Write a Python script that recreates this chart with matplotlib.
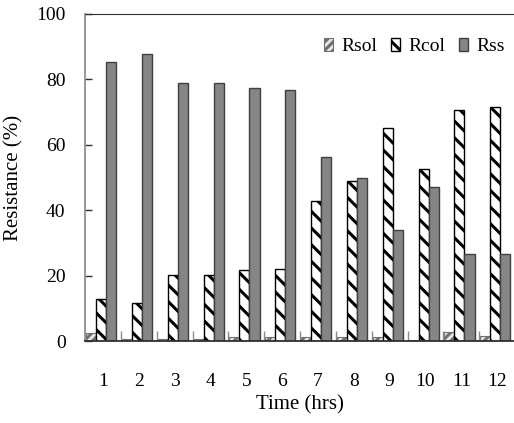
import matplotlib
matplotlib.use("Agg")
import matplotlib.pyplot as plt
import numpy as np

plt.rcParams['font.family'] = ['Liberation Serif', 'DejaVu Serif']
plt.rcParams['hatch.linewidth'] = 2.2

hours = [1, 2, 3, 4, 5, 6, 7, 8, 9, 10, 11, 12]
r_sol = [2.3, 0.5, 0.5, 0.5, 1.1, 1.1, 1.1, 1.1, 1.1, 0.2, 2.6, 1.4]
r_col = [12.7, 11.5, 20.1, 20.1, 21.6, 21.9, 42.8, 48.9, 65.2, 52.6, 70.6, 71.6]
r_ss = [85.2, 87.8, 78.9, 78.9, 77.3, 76.8, 56.2, 49.9, 33.8, 47.2, 26.6, 26.6]

fig = plt.figure(figsize=(5.14, 4.23), dpi=100)
ax = fig.add_axes([85 / 514, 82 / 423, 430 / 514, 327 / 423])

x = np.arange(len(hours)) + 1
w = 0.28
ax.bar(x - w - 0.05, r_sol, w, facecolor='#e8e8e8', edgecolor='#707070',
       hatch='////', linewidth=0.8, label='Rsol')
ax.bar(x - 0.05, r_col, w, facecolor='white', edgecolor='black',
       hatch='\\\\', linewidth=1.0, label='Rcol')
ax.bar(x + w - 0.05, r_ss, w, facecolor='#858585', edgecolor='#404040',
       linewidth=1.0, label='Rss')

ax.set_xlim(0.5, 12.5)
ax.set_ylim(0, 100)
ax.set_yticks([0, 20, 40, 60, 80, 100])
ax.set_xticks(x)
ax.set_xticklabels([str(h) for h in hours])
ax.set_xticks(np.arange(1.5, 13, 1), minor=True)
ax.tick_params(axis='x', which='major', length=0, pad=23, labelsize=14)
ax.tick_params(axis='x', which='minor', direction='in', length=7, color='#8a8a8a', width=1)
ax.tick_params(axis='y', direction='in', length=5, width=1, color='#303030',
               pad=14, labelsize=14)

ax.spines['right'].set_visible(False)
ax.spines['left'].set_color('#909090')
ax.spines['left'].set_linewidth(1.3)
ax.spines['top'].set_color('#303030')
ax.spines['bottom'].set_color('#303030')
ax.spines['bottom'].set_linewidth(1.3)

ax.set_xlabel('Time (hrs)', fontsize=15, labelpad=4)
ax.set_ylabel('Resistance (%)', fontsize=15, labelpad=9)

ax.legend(loc='upper right', bbox_to_anchor=(1.0, 0.955), ncol=3, frameon=False,
          fontsize=14, handlelength=0.45, handleheight=0.6, handletextpad=0.45,
          columnspacing=0.7, borderaxespad=0.1)

fig.savefig('out.png', dpi=100)
